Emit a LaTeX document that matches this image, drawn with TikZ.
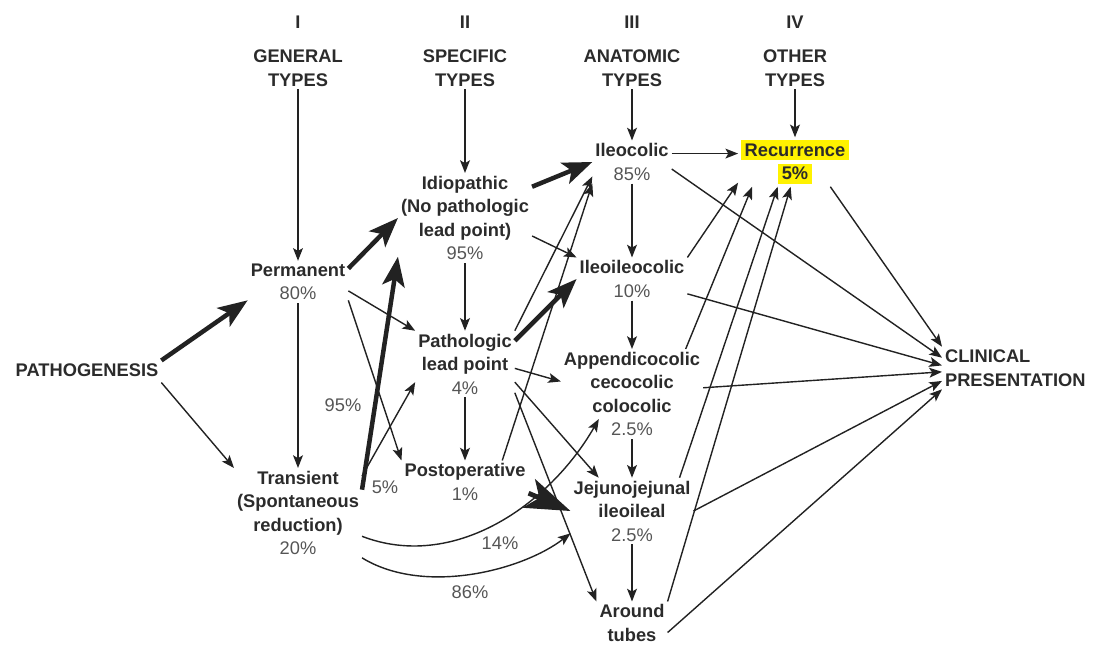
\documentclass[tikz,border=0pt]{standalone}
\usepackage{fontspec}
\setmainfont{Liberation Sans}
\usepackage[HTML]{xcolor}
\usepackage{tikz}
\usetikzlibrary{arrows.meta, calc}

\definecolor{txtdark}{HTML}{2B2B2B}
\definecolor{linedark}{HTML}{222222}
\definecolor{pctgray}{HTML}{555555}
\definecolor{hlyellow}{HTML}{FFF200}
\newcommand{\pct}[1]{{\mdseries\color{pctgray}#1}}
\newcommand{\hlt}[1]{{\setlength{\fboxsep}{2.5pt}\colorbox{hlyellow}{#1}}}

\begin{document}
\begin{tikzpicture}[
    x=0.025cm, y=-0.025cm, % one unit = one pixel of the layout, y downwards
    every node/.style={font=\bfseries\fontsize{13}{16.7}\selectfont, text=txtdark, align=center, inner sep=2pt},
    pctlbl/.style={font=\mdseries\fontsize{13}{16.7}\selectfont, text=pctgray},
    arr/.style={draw=linedark, line width=1pt, -{Stealth[length=9pt, width=7pt, inset=2pt]}},
    bigarr/.style={draw=linedark, line width=3.2pt, -{Stealth[length=21pt, width=16pt, inset=5pt]}},
    hugearr/.style={draw=linedark, line width=3.4pt, -{Stealth[length=32pt, width=22pt, inset=8pt]}}
]
    \useasboundingbox (0,0) rectangle (1099,646);

    % Column headers
    \node (hI) at (298,22) {I};
    \node (hII) at (465,22) {II};
    \node (hIII) at (632,22) {III};
    \node (hIV) at (795,22) {IV};
    \node (gen) at (298,68) {GENERAL\\TYPES};
    \node (spec) at (465,68) {SPECIFIC\\TYPES};
    \node (anat) at (632,68) {ANATOMIC\\TYPES};
    \node (oth) at (795,68) {OTHER\\TYPES};

    % Column I
    \node (patho) at (87,370) {PATHOGENESIS};
    \node (perm) at (298,282) {Permanent\\\pct{80\%}};
    \node (trans) at (298,513) {Transient\\(Spontaneous\\reduction)\\\pct{20\%}};

    % Column II
    \node (idio) at (465,218) {Idiopathic\\(No pathologic\\lead point)\\\pct{95\%}};
    \node (path) at (465,364) {Pathologic\\lead point\\\pct{4\%}};
    \node (postop) at (465,482) {Postoperative\\\pct{1\%}};

    % Column III
    \node (ileo) at (632,162) {Ileocolic\\\pct{85\%}};
    \node (ileoil) at (632,279) {Ileoileocolic\\\pct{10\%}};
    \node (appen) at (632,394) {Appendicocolic\\cecocolic\\colocolic\\\pct{2.5\%}};
    \node (jejun) at (632,511) {Jejunojejunal\\ileoileal\\\pct{2.5\%}};
    \node (around) at (632,623) {Around\\tubes};

    % Column IV and outcome
    \node (recur) at (795,162) {\hlt{Recurrence}\\\hlt{5\%}};
    \node[anchor=west, align=left] (clin) at (942,368) {CLINICAL\\PRESENTATION};

    % Split labels
    \node[pctlbl] (l95) at (343,405) {95\%};
    \node[pctlbl] (l5) at (385,487) {5\%};
    \node[pctlbl] (l14) at (500,543) {14\%};
    \node[pctlbl] (l86) at (470,592) {86\%};

    % Headers down to first level
    \draw[arr] (gen) -- (perm);
    \draw[arr] (spec) -- (idio);
    \draw[arr] (anat) -- (ileo);
    \draw[arr] (oth) -- (recur);

    % From pathogenesis
    \draw[bigarr] (patho.north east) -- (perm.200);
    \draw[arr] ($(patho.south east)+(0,3)$) -- (trans.north west);

    % From general types
    \draw[arr] (perm) -- (trans);
    \draw[bigarr] (perm.15) -- (idio.west);
    \draw[arr] (perm.-10) -- (path.north west);
    \draw[arr] (perm.-20) -- (postop.north west);
    \draw[bigarr] (trans.20) -- (idio.-150);
    \draw[arr] (trans.30) -- (path.-160);
    \draw[arr] (trans.-20) .. controls +(91,35) and +(-50,87) .. ($(appen.south west)+(38,-20)$);
    \draw[arr] (trans.-35) .. controls +(62,38) and +(-48,37) .. (jejun.-160);

    % From specific types
    \draw[arr] (idio) -- (path);
    \draw[bigarr] (idio.25) -- (ileo.west);
    \draw[arr] (idio.-15) -- (ileoil.north west);
    \draw[arr] (path) -- (postop);
    \draw[arr] (path.north east) -- (ileo.200);
    \draw[bigarr] (path.25) -- (ileoil.west);
    \draw[arr] (path.-5) -- (appen.170);
    \draw[arr] (path.-20) -- (jejun.135);
    \draw[arr] (path.-30) -- (around.north west);
    \draw[arr] (postop.30) -- (ileo.south west);
    \draw[hugearr] (postop.-10) -- (jejun.west);

    % Anatomic chain
    \draw[arr] (ileo) -- (ileoil);
    \draw[arr] (ileoil) -- (appen);
    \draw[arr] (appen) -- (jejun);
    \draw[arr] (jejun) -- (around);

    % To recurrence
    \draw[arr] (ileo.12) -- (ileo.12 -| recur.west);
    \draw[arr] (ileoil.north east) -- (recur.-160);
    \draw[arr] (appen.40) -- (recur.-150);
    \draw[arr] (jejun.35) -- (recur.-125);
    \draw[arr] (around.north east) -- (recur.-100);

    % To clinical presentation
    \draw[arr] (recur.-35) -- (clin.north west);
    \draw[arr] (ileo.-10) -- (clin.172);
    \draw[arr] (ileoil.-15) -- (clin.178);
    \draw[arr] (appen.5) -- (clin.183);
    \draw[arr] (jejun.east) -- (clin.190);
    \draw[arr] (around.-15) -- (clin.south west);
\end{tikzpicture}
\end{document}
